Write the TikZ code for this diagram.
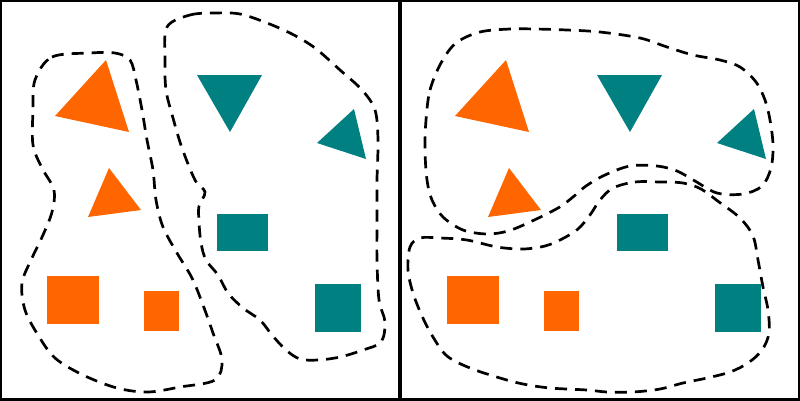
\documentclass[tikz,border=0pt]{standalone}
\definecolor{orng}{HTML}{FF6600}
\definecolor{teal2}{HTML}{008080}
\tikzset{
  oshape/.style={fill=orng,draw=none},
  tshape/.style={fill=teal2,draw=none},
  grp/.style={draw=black,line width=2.7pt,dash pattern=on 12pt off 8pt,tension=0.55},
  frame/.style={draw=black,line width=4pt}
}
\begin{document}
\begin{tikzpicture}[x=1pt,y=-1pt]
\useasboundingbox (0,0) rectangle (800,400);
\fill[white] (0,0) rectangle (800,400);
% shapes in both panels
\foreach \dx in {0,400}{
  \begin{scope}[xshift=\dx]
  \fill[oshape] (106,60) -- (55,116) -- (129,132) -- cycle;
  \fill[oshape] (109,168) -- (88,217) -- (141,210) -- cycle;
  \fill[tshape] (197,75) -- (262,75) -- (230,132) -- cycle;
  \fill[tshape] (354,109) -- (317,143) -- (366,159) -- cycle;
  \fill[tshape] (217,214) rectangle (268,251);
  \fill[tshape] (315,284) rectangle (361,332);
  \fill[oshape] (47,276) rectangle (99,324);
  \fill[oshape] (144,291) rectangle (179,331);
  \end{scope}
}
% left panel groups
\draw[grp] plot[smooth cycle] coordinates {
 (35,80) (52,57) (90,53) (115,53) (130,60) (136,80) (142,110) (147,140)
 (153,170) (156,200) (163,227) (177,253) (192,278) (203,305) (213,333)
 (222,360) (215,380) (180,387) (148,392) (117,388) (83,375) (55,358)
 (38,335) (25,310) (22,283) (32,258) (43,235) (52,212) (54,190)
 (42,168) (33,145) (33,110)};
\draw[grp] plot[smooth cycle] coordinates {
 (167,27) (190,15) (215,13) (240,14) (267,23) (292,34) (315,48) (340,70)
 (362,90) (375,110) (378,140) (377,180) (377,220) (377,260) (379,300)
 (385,322) (381,342) (363,350) (340,357) (318,360) (300,359) (286,350)
 (272,335) (260,320) (243,308) (228,293) (218,275) (206,260) (201,243)
 (199,222) (199,206) (205,192) (195,180) (182,148) (173,118) (166,90)
 (165,60)};
% right panel groups
\draw[grp] plot[smooth cycle] coordinates {
 (426,120) (430,90) (441,63) (456,43) (480,32) (510,29) (535,29) (567,30)
 (600,32) (640,38) (667,47) (693,55) (720,60) (740,67) (756,82) (765,100)
 (770,120) (773,145) (771,168) (762,186) (743,194) (717,193) (695,181)
 (677,171) (657,166) (630,166) (605,175) (586,186) (573,197) (558,208)
 (530,222) (508,231) (487,234) (463,230) (443,217) (432,200) (427,180)
 (425,150)};
\draw[grp] plot[smooth cycle] coordinates {
 (613,188) (635,182) (660,182) (683,183) (701,189) (719,202) (740,218)
 (753,236) (758,260) (763,287) (768,310) (769,333) (762,350) (748,363)
 (730,372) (707,378) (683,383) (660,389) (633,392) (607,392) (587,390)
 (550,388) (523,384) (500,378) (470,368) (447,356) (433,337) (422,316)
 (413,293) (408,270) (410,247) (420,238) (440,238) (467,240) (497,247)
 (523,249) (545,246) (562,239) (578,229) (590,215) (600,200)};
% frames
\draw[frame] (0,0) rectangle (400,400);
\draw[frame] (400,0) rectangle (800,400);
\end{tikzpicture}
\end{document}
